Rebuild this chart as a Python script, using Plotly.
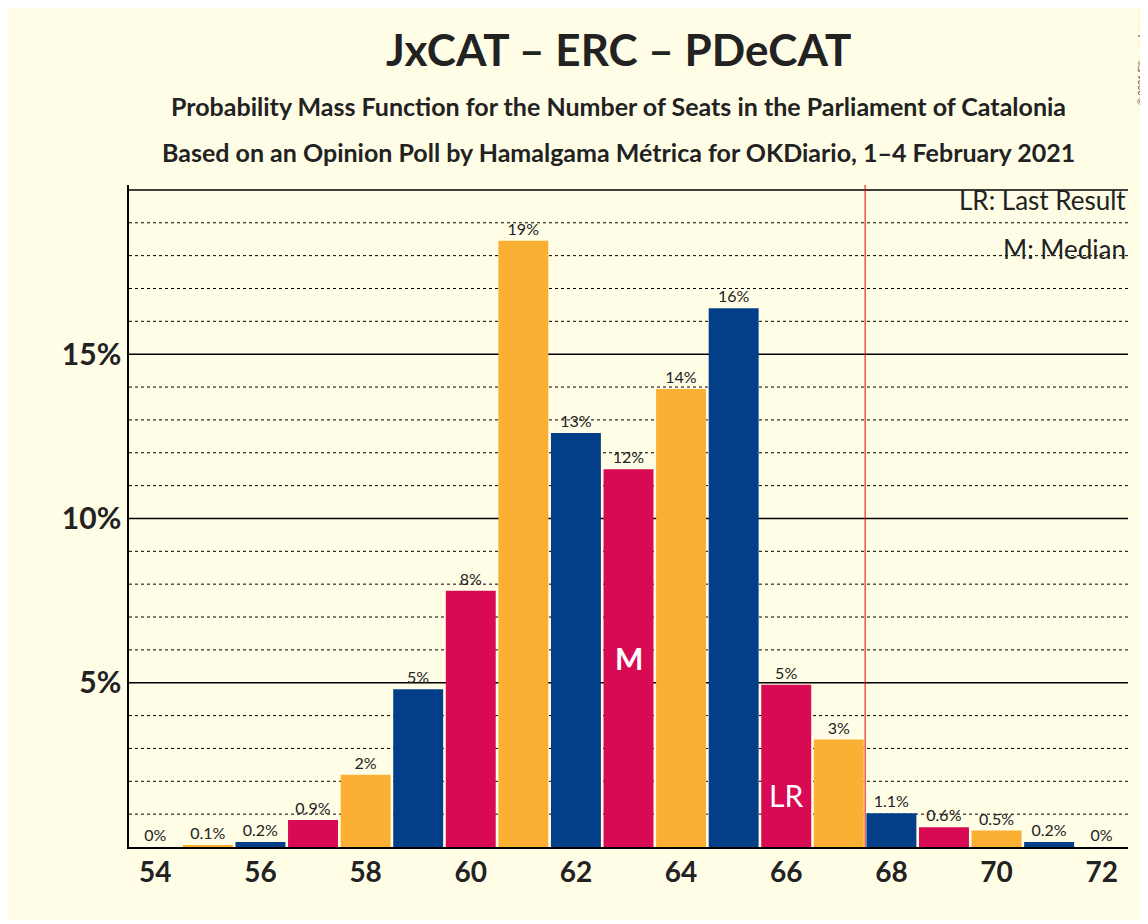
import plotly.graph_objects as go

seats = list(range(54, 73))
probs = [0, 0.05, 0.15, 0.82, 2.2, 4.8, 7.8, 18.45, 12.6, 11.5, 13.94, 16.4, 4.94, 3.27, 1.03, 0.6, 0.5, 0.15, 0]
labels = ["0%", "0.1%", "0.2%", "0.9%", "2%", "5%", "8%", "19%", "13%", "12%", "14%", "16%",
          "5%", "3%", "1.1%", "0.6%", "0.5%", "0.2%", "0%"]
palette = ["#D70A53", "#FBB034", "#023F88"]
colors = [palette[(s - 54) % 3] for s in seats]
median_seat = 63
last_result = 66

bg = "#FFFDE6"
fig = go.Figure()
fig.add_bar(x=seats, y=probs, marker_color=colors, marker_line_width=0, width=0.95,
            text=labels, textposition="outside", cliponaxis=False,
            textfont=dict(family="Lato", size=16, color="#222"))

shapes = []
for v in range(1, 21):
    if v % 5 == 0:
        shapes.append(dict(type="line", xref="paper", x0=0, x1=1, y0=v, y1=v, layer="below",
                           line=dict(color="black", width=1.5)))
    else:
        shapes.append(dict(type="line", xref="paper", x0=0, x1=1, y0=v, y1=v, layer="below",
                           line=dict(color="black", width=1, dash="dot")))
shapes.append(dict(type="line", x0=67.5, x1=67.5, yref="paper", y0=0, y1=1,
                   line=dict(color="#E00000", width=1)))

ann = [
    dict(x=median_seat, y=probs[median_seat - 54] / 2, text="<b>M</b>", showarrow=False,
         font=dict(family="Lato", size=30, color="white")),
    dict(x=last_result, y=probs[last_result - 54] / 2 - 0.9, text="LR", showarrow=False,
         font=dict(family="Lato", size=30, color="white")),
    dict(xref="paper", yref="paper", x=1, y=1.005, xanchor="right", yanchor="top",
         text="LR: Last Result", showarrow=False, font=dict(family="Lato", size=26, color="#222")),
    dict(xref="paper", yref="paper", x=1, y=0.93, xanchor="right", yanchor="top",
         text="M: Median", showarrow=False, font=dict(family="Lato", size=26, color="#222")),
    dict(xref="paper", yref="paper", x=0.49, y=1.205, xanchor="center", yanchor="middle",
         text="<b>JxCAT – ERC – PDeCAT</b>", showarrow=False, font=dict(family="Lato", size=44, color="#222")),
    dict(xref="paper", yref="paper", x=0.49, y=1.12, xanchor="center", yanchor="middle",
         text="<b>Probability Mass Function for the Number of Seats in the Parliament of Catalonia</b>",
         showarrow=False, font=dict(family="Lato", size=25, color="#222")),
    dict(xref="paper", yref="paper", x=0.49, y=1.05, xanchor="center", yanchor="middle",
         text="<b>Based on an Opinion Poll by Hamalgama Métrica for OKDiario, 1–4 February 2021</b>",
         showarrow=False, font=dict(family="Lato", size=25, color="#222")),
    dict(xref="paper", yref="paper", x=1, xshift=6, y=1.27, xanchor="left", yanchor="top", textangle=-90,
         text="© 2021 Filip van Laenen", showarrow=False, font=dict(family="Lato", size=9, color="#444")),
]

fig.update_layout(
    width=1136, height=912, paper_bgcolor=bg, plot_bgcolor=bg,
    margin=dict(l=121, r=16, t=177, b=73), showlegend=False,
    shapes=shapes, annotations=ann,
    font=dict(family="Lato", color="#222"),
)
fig.update_xaxes(range=[53.5, 72.5], tickvals=list(range(54, 73, 2)), showgrid=False,
                 ticktext=[f"<b>{s}</b>" for s in range(54, 73, 2)],
                 tickfont=dict(size=28, family="Lato", color="#222"), ticks="", zeroline=False,
                 showline=True, linecolor="black", linewidth=1.5)
fig.update_yaxes(range=[0, 20.15], tickvals=[5, 10, 15], ticktext=["<b>5%</b>", "<b>10%</b>", "<b>15%</b>"],
                 showgrid=False, zeroline=False, tickfont=dict(size=30, family="Lato", color="#222"),
                 showline=True, linecolor="black", linewidth=1.5, ticks="")

fig.write_html("out.html")
